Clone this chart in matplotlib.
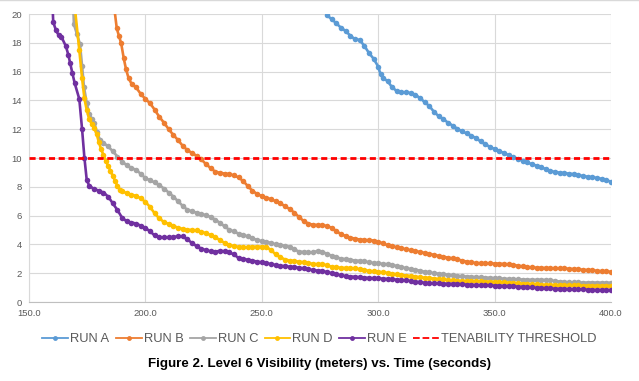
import numpy as np
import matplotlib
matplotlib.use("Agg")
import matplotlib.pyplot as plt
from matplotlib.lines import Line2D

# ---------------- data: (time s, visibility m) ----------------
run_a = [(278, 19.9), (280, 19.65), (282, 19.35), (284, 19.05), (286, 18.82), (288, 18.5),
         (290, 18.25), (292, 18.2), (294, 17.8), (296, 17.3), (298, 16.9), (300, 16.35),
         (301, 15.8), (302, 15.55), (304, 15.35), (306, 14.9), (308, 14.65), (310, 14.58),
         (312, 14.55), (314, 14.52), (316, 14.4), (318, 14.15), (320, 13.88), (322, 13.6),
         (324, 13.2), (326, 12.9), (328, 12.7), (330, 12.45), (332, 12.25), (334, 12.03),
         (336, 11.85), (338, 11.71), (340, 11.55), (342, 11.38), (344, 11.15), (346, 10.95),
         (348, 10.78), (350, 10.62), (352, 10.48), (354, 10.35), (356, 10.2), (358, 10.07),
         (360, 9.95), (362, 9.82), (364, 9.69), (366, 9.57), (368, 9.47), (370, 9.37),
         (372, 9.22), (374, 9.1), (376, 9.03), (378, 8.98), (380, 8.95), (382, 8.91),
         (384, 8.88), (386, 8.81), (388, 8.75), (390, 8.7), (392, 8.66), (394, 8.62),
         (396, 8.55), (398, 8.45), (400, 8.36)]

run_b = [(186.5, 20.6), (187.7, 19.0), (188.6, 18.5), (189.6, 17.96), (190.7, 16.92),
         (191.7, 16.15), (192.8, 15.53), (194.1, 15.14), (196, 14.9), (198, 14.45), (200, 14.1),
         (202, 13.8), (204, 13.35), (206, 12.85), (208, 12.45), (210, 12.0), (212, 11.6),
         (214, 11.25), (216, 10.85), (218, 10.55), (220, 10.35), (222, 10.15), (224, 9.9),
         (226, 9.58), (228, 9.3), (230, 9.05), (232, 8.97), (234, 8.92), (236, 8.87), (238, 8.8),
         (240, 8.65), (242, 8.4), (244, 8.05), (246, 7.72), (248, 7.5), (250, 7.35), (252, 7.25),
         (254, 7.13), (256, 7.0), (258, 6.85), (260, 6.65), (262, 6.45), (264, 6.2), (266, 5.9),
         (268, 5.62), (270, 5.45), (272, 5.36), (274, 5.35), (276, 5.33), (278, 5.28),
         (280, 5.15), (282, 4.92), (284, 4.72), (286, 4.58), (288, 4.47), (290, 4.4), (292, 4.34),
         (294, 4.3), (296, 4.29), (298, 4.27), (300, 4.2), (302, 4.07), (304, 3.95), (306, 3.87),
         (308, 3.8), (310, 3.73), (312, 3.66), (314, 3.6), (316, 3.54), (318, 3.47), (320, 3.41),
         (322, 3.34), (324, 3.27), (326, 3.2), (328, 3.14), (330, 3.08), (332, 3.03), (334, 2.96),
         (336, 2.88), (338, 2.8), (340, 2.75), (342, 2.71), (344, 2.69), (346, 2.68), (348, 2.68),
         (350, 2.67), (352, 2.66), (354, 2.64), (356, 2.61), (358, 2.57), (360, 2.52),
         (362, 2.47), (364, 2.43), (366, 2.4), (368, 2.38), (370, 2.37), (372, 2.36), (374, 2.35),
         (376, 2.34), (378, 2.34), (380, 2.33), (382, 2.31), (384, 2.29), (386, 2.27),
         (388, 2.24), (390, 2.22), (392, 2.2), (394, 2.17), (396, 2.14), (398, 2.12), (400, 2.1)]

run_c = [(168.9, 21.0), (169.3, 19.28), (170.6, 18.6), (171.9, 17.9), (172.8, 16.39),
         (173.6, 14.95), (174.8, 13.8), (175.9, 13.03), (177, 12.7), (178, 12.45), (179.1, 11.83),
         (180.5, 11.25), (182, 11.05), (184, 10.8), (186, 10.47), (188, 10.1), (190, 9.75),
         (192, 9.5), (194, 9.3), (196, 9.18), (198, 8.9), (200, 8.6), (202, 8.45), (204, 8.3),
         (206, 8.1), (208, 7.88), (210, 7.6), (212, 7.32), (214, 7.0), (216, 6.68), (218, 6.4),
         (220, 6.3), (222, 6.2), (224, 6.1), (226, 6.04), (228, 5.9), (230, 5.72), (232, 5.5),
         (234, 5.25), (236, 5.02), (238, 4.9), (240, 4.75), (242, 4.65), (244, 4.55), (246, 4.43),
         (248, 4.3), (250, 4.23), (252, 4.19), (254, 4.1), (256, 4.0), (258, 3.95), (260, 3.9),
         (262, 3.84), (264, 3.65), (266, 3.5), (268, 3.47), (270, 3.45), (272, 3.45), (274, 3.55),
         (276, 3.5), (278, 3.33), (280, 3.22), (282, 3.1), (284, 3.02), (286, 2.97), (288, 2.93),
         (290, 2.88), (292, 2.86), (294, 2.82), (296, 2.76), (298, 2.71), (300, 2.68),
         (302, 2.65), (304, 2.62), (306, 2.57), (308, 2.5), (310, 2.42), (312, 2.35), (314, 2.29),
         (316, 2.24), (318, 2.17), (320, 2.1), (322, 2.05), (324, 2.0), (326, 1.97), (328, 1.93),
         (330, 1.89), (332, 1.85), (334, 1.81), (336, 1.79), (338, 1.77), (340, 1.75),
         (342, 1.73), (344, 1.72), (346, 1.7), (348, 1.68), (350, 1.66), (352, 1.64), (354, 1.62),
         (356, 1.6), (358, 1.59), (360, 1.57), (362, 1.56), (364, 1.55), (366, 1.55), (368, 1.54),
         (370, 1.54), (372, 1.53), (374, 1.5), (376, 1.46), (378, 1.42), (380, 1.39), (382, 1.37),
         (384, 1.36), (386, 1.36), (388, 1.35), (390, 1.35), (392, 1.35), (394, 1.35),
         (396, 1.34), (398, 1.34), (400, 1.34)]

run_d = [(169.2, 21.2), (171.6, 17.5), (172.8, 15.53), (173.8, 14.14), (174.8, 13.33),
         (175.9, 12.69), (177, 12.35), (178, 12.06), (179, 11.7), (180, 11.1), (181, 10.6),
         (182, 10.2), (183, 9.8), (184, 9.45), (185, 9.1), (186, 8.75), (187, 8.4), (188, 8.05),
         (189, 7.8), (190, 7.7), (192, 7.55), (194, 7.45), (196, 7.37), (198, 7.2), (200, 6.95),
         (202, 6.6), (204, 6.15), (206, 5.8), (208, 5.55), (210, 5.42), (212, 5.3), (214, 5.15),
         (216, 5.08), (218, 5.02), (220, 5.0), (222, 4.97), (224, 4.88), (226, 4.78), (228, 4.65),
         (230, 4.5), (232, 4.3), (234, 4.1), (236, 3.95), (238, 3.88), (240, 3.83), (242, 3.8),
         (244, 3.8), (246, 3.83), (248, 3.85), (250, 3.84), (252, 3.82), (254, 3.6), (256, 3.3),
         (258, 3.1), (260, 2.95), (262, 2.88), (264, 2.84), (266, 2.8), (268, 2.76), (270, 2.7),
         (272, 2.65), (274, 2.62), (276, 2.62), (278, 2.55), (280, 2.44), (282, 2.4), (284, 2.38),
         (286, 2.36), (288, 2.35), (290, 2.33), (292, 2.28), (294, 2.22), (296, 2.16),
         (298, 2.12), (300, 2.1), (302, 2.06), (304, 2.02), (306, 1.97), (308, 1.92), (310, 1.88),
         (312, 1.84), (314, 1.8), (316, 1.76), (318, 1.72), (320, 1.69), (322, 1.66), (324, 1.63),
         (326, 1.6), (328, 1.57), (330, 1.54), (332, 1.51), (334, 1.49), (336, 1.47), (338, 1.46),
         (340, 1.45), (342, 1.44), (344, 1.43), (346, 1.42), (348, 1.41), (350, 1.4), (352, 1.38),
         (354, 1.36), (356, 1.34), (358, 1.32), (360, 1.3), (362, 1.28), (364, 1.26), (366, 1.24),
         (368, 1.22), (370, 1.21), (372, 1.2), (374, 1.19), (376, 1.18), (378, 1.17), (380, 1.16),
         (382, 1.16), (384, 1.15), (386, 1.15), (388, 1.14), (390, 1.14), (392, 1.13),
         (394, 1.13), (396, 1.13), (398, 1.12), (400, 1.12)]

run_e = [(159.9, 21.5), (160.4, 19.44), (161.6, 18.86), (162.7, 18.54), (163.9, 18.42),
         (165.8, 17.78), (166.9, 17.17), (167.7, 16.57), (168.6, 15.92), (169.6, 15.21),
         (171.6, 14.1), (172.8, 12.0), (173.8, 10.02), (174.8, 8.47), (175.9, 8.06), (178, 7.85),
         (180, 7.73), (182, 7.6), (184, 7.32), (186, 6.85), (188, 6.38), (190, 5.85), (192, 5.6),
         (194, 5.52), (196, 5.45), (198, 5.3), (200, 5.15), (202, 4.9), (204, 4.62), (206, 4.5),
         (208, 4.48), (210, 4.48), (212, 4.5), (214, 4.58), (216, 4.55), (218, 4.35), (220, 4.1),
         (222, 3.88), (224, 3.7), (226, 3.6), (228, 3.52), (230, 3.5), (232, 3.55), (234, 3.52),
         (236, 3.45), (238, 3.3), (240, 3.06), (242, 3.0), (244, 2.93), (246, 2.87), (248, 2.8),
         (250, 2.75), (252, 2.7), (254, 2.63), (256, 2.57), (258, 2.52), (260, 2.48), (262, 2.45),
         (264, 2.42), (266, 2.38), (268, 2.33), (270, 2.27), (272, 2.22), (274, 2.18),
         (276, 2.15), (278, 2.08), (280, 2.0), (282, 1.92), (284, 1.85), (286, 1.8), (288, 1.77),
         (290, 1.75), (292, 1.72), (294, 1.7), (296, 1.67), (298, 1.65), (300, 1.64), (302, 1.62),
         (304, 1.6), (306, 1.58), (308, 1.55), (310, 1.53), (312, 1.5), (314, 1.46), (316, 1.42),
         (318, 1.38), (320, 1.34), (322, 1.31), (324, 1.3), (326, 1.29), (328, 1.28), (330, 1.27),
         (332, 1.26), (334, 1.25), (336, 1.23), (338, 1.21), (340, 1.19), (342, 1.18),
         (344, 1.17), (346, 1.16), (348, 1.15), (350, 1.14), (352, 1.13), (354, 1.12),
         (356, 1.11), (358, 1.09), (360, 1.07), (362, 1.05), (364, 1.03), (366, 1.01),
         (368, 0.99), (370, 0.97), (372, 0.95), (374, 0.94), (376, 0.93), (378, 0.92),
         (380, 0.91), (382, 0.9), (384, 0.89), (386, 0.88), (388, 0.87), (390, 0.86), (392, 0.85),
         (394, 0.84), (396, 0.84), (398, 0.83), (400, 0.83)]

threshold_t = [150, 400]
threshold_v = [10, 10]

series_names = ["RUN A", "RUN B", "RUN C", "RUN D", "RUN E"]
series_colors = ["#5B9BD5", "#ED7D31", "#A5A5A5", "#FFC000", "#7030A0"]
threshold_name = "TENABILITY THRESHOLD"
title_text = "Figure 2. Level 6 Visibility (meters) vs. Time (seconds)"
x_ticks = [150, 200, 250, 300, 350, 400]
y_ticks = [0, 2, 4, 6, 8, 10, 12, 14, 16, 18, 20]

# ---------------- figure ----------------
sans = ["Liberation Sans", "DejaVu Sans"]
fig = plt.figure(figsize=(6.39, 3.81), dpi=100)
ax = fig.add_axes([29 / 639, 1 - 302 / 381, (611 - 29) / 639, (302 - 14) / 381])

all_series = [run_a, run_b, run_c, run_d, run_e]
for pts, name, col in zip(all_series, series_names, series_colors):
    t = [p[0] for p in pts]
    v = [p[1] for p in pts]
    ax.plot(t, v, color=col, lw=1.9, marker="o", markersize=4.0, markeredgewidth=0,
            label=name, zorder=3, solid_capstyle="round")
ax.plot(threshold_t, threshold_v, color="#FF0000", lw=2.0, linestyle=(0, (2.2, 1.3)),
        label=threshold_name, zorder=4)

ax.set_xlim(150, 400)
ax.set_ylim(0, 20)
ax.set_xticks(x_ticks)
ax.set_xticklabels([f"{v:.1f}" for v in x_ticks])
ax.set_yticks(y_ticks)
ax.grid(True, color="#D9D9D9", lw=0.8, zorder=0)
ax.set_axisbelow(True)
for s in ["top", "right"]:
    ax.spines[s].set_visible(False)
ax.spines["left"].set_color("#D9D9D9")
ax.spines["bottom"].set_color("#BFBFBF")
ax.tick_params(length=0, colors="#595959", labelsize=6.8, pad=5)
for lab in ax.get_xticklabels() + ax.get_yticklabels():
    lab.set_family(sans)

handles, labels = ax.get_legend_handles_labels()
leg_handles = []
for h in handles:
    leg_handles.append(Line2D([], [], color=h.get_color(), lw=1.3,
                              linestyle=h.get_linestyle(),
                              marker=h.get_marker() if h.get_marker() not in (None, "None", "") else None,
                              markersize=3.5, markeredgewidth=0))
leg = fig.legend(leg_handles, labels, loc="center", bbox_to_anchor=(0.5, 1 - 339 / 381), ncol=6,
                 frameon=False, handlelength=2.0, handletextpad=0.15, columnspacing=0.5,
                 prop={"family": sans, "size": 9.3}, borderaxespad=0)
for txt in leg.get_texts():
    txt.set_color("#595959")

fig.text(0.5, 1 - 364 / 381, title_text, ha="center", va="center", fontweight="bold",
         fontsize=9.6, family=sans, color="black")

fig.add_artist(Line2D([0, 1], [0.999, 0.999], transform=fig.transFigure, color="#D9D9D9", lw=1))

fig.savefig("out.png", dpi=100)
